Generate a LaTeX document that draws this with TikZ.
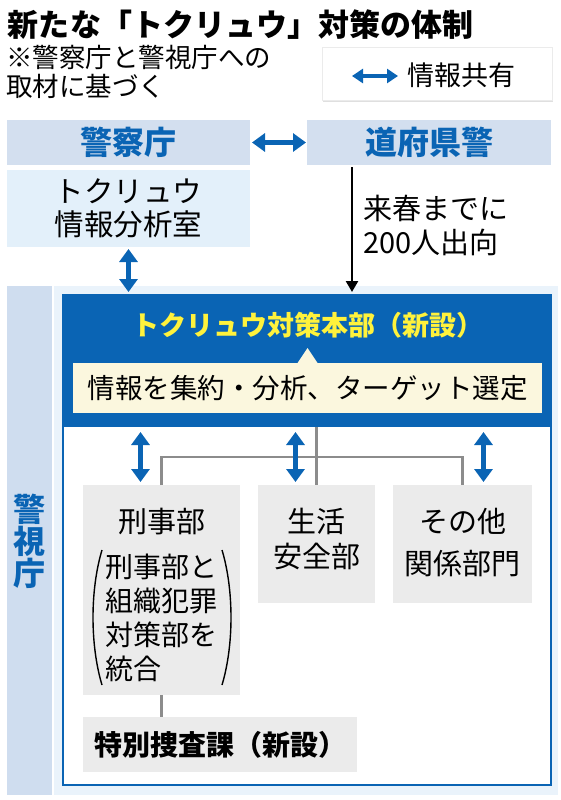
\documentclass[tikz,border=0pt]{standalone}
\usepackage{fontspec}
\setmainfont{Noto Sans CJK JP}
\usetikzlibrary{arrows.meta,positioning,shadows}

\definecolor{kblue}{HTML}{0A64B4}
\definecolor{npablue}{HTML}{D3DFEF}
\definecolor{roomblue}{HTML}{E3F0FA}
\definecolor{stripblue}{HTML}{CFDDEF}
\definecolor{panelblue}{HTML}{EAF3FB}
\definecolor{creamy}{HTML}{FBF7DE}
\definecolor{deptgray}{HTML}{EBEBEB}
\definecolor{linegray}{HTML}{8C8C8C}
\definecolor{hqyellow}{HTML}{FFF23C}

\begin{document}
\begin{tikzpicture}[
  x=1pt,y=-1pt,
  every node/.style={inner sep=0pt,outer sep=0pt},
  hqbox/.style={fill=npablue,text=kblue,font=\bfseries\fontsize{32}{32}\selectfont,anchor=north west,minimum height=45pt},
  roombox/.style={fill=roomblue,align=center,font=\fontsize{29.5}{33}\selectfont,anchor=north west},
  deptbox/.style={fill=deptgray,anchor=north west},
  depttext/.style={align=center,font=\fontsize{29}{35}\selectfont},
  infoarrow/.style={{Triangle[width=18pt,length=13pt]}-{Triangle[width=18pt,length=13pt]},line width=5pt,draw=kblue},
  keyarrow/.style={{Triangle[width=14pt,length=11pt]}-{Triangle[width=14pt,length=11pt]},line width=3.8pt,draw=kblue},
  sendarrow/.style={-{Triangle[width=12pt,length=11pt]},line width=2.5pt},
  orgline/.style={draw=linegray,line width=2.5pt}
]
\useasboundingbox (0,0) rectangle (561,800);

% heading and note
\node[anchor=west,font=\bfseries\fontsize{31}{31}\selectfont] (title) at (8,24.5) {新たな「トクリュウ」対策の体制};
\node[anchor=west,align=left,font=\fontsize{26.5}{29}\selectfont] (note) at (6,71.5) {※警察庁と警視庁への\\取材に基づく};

% legend
\node[anchor=north west,fill=white,draw=black!8,minimum width=230pt,minimum height=53pt,
  drop shadow={shadow xshift=1pt,shadow yshift=-2pt,opacity=0.25}] (legend) at (322,47) {};
\coordinate (keyl) at (352,76);
\coordinate (keyr) at (398,76);
\draw[keyarrow] (keyl) -- (keyr);
\node[anchor=west,font=\fontsize{27}{27}\selectfont] (keytext) at (407,75) {情報共有};

% national level
\node[hqbox,minimum width=243pt] (npa) at (7,120) {警察庁};
\node[hqbox,minimum width=244pt] (pref) at (307,120) {道府県警};
\node[roombox,minimum width=243pt,minimum height=77pt] (room) at (7,170) {トクリュウ\\情報分析室};
\draw[infoarrow,shorten <=2pt,shorten >=1pt] (npa) -- (pref);

% tokyo
\node[anchor=north west,fill=stripblue,minimum width=45pt,minimum height=509pt] (mpd) at (7,286) {};
\node[align=center,text=kblue,font=\bfseries\fontsize{32}{32}\selectfont] (mpdtext) at (29,541) {警\\視\\庁};
\node[anchor=north west,fill=panelblue,minimum width=504pt,minimum height=509pt] (panel) at (54,286) {};
\node[anchor=north west,fill=white,draw=kblue,line width=2pt,minimum width=488pt,minimum height=490pt] (frame) at (63,295) {};
\node[anchor=north west,fill=kblue,minimum width=488pt,minimum height=132pt] (hq) at (63,295) {};
\node[text=hqyellow,font=\bfseries\fontsize{27}{27}\selectfont] (hqtitle) at (308,325) {トクリュウ対策本部（新設）};
\node[anchor=north west,fill=creamy,minimum width=469pt,minimum height=50pt,font=\fontsize{27.5}{27.5}\selectfont] (task) at (73,363) {情報を集約・分析、ターゲット選定};
\fill[creamy] ([xshift=-10pt]task.north) -- ++(10,-15) -- ++(10,15) -- cycle;

\draw[infoarrow,shorten <=2pt] (room) -- ([yshift=-6pt]room |- panel.north);
\draw[sendarrow] ([xshift=-77pt,yshift=-2pt]pref.south) -- ([xshift=-77pt,yshift=-6pt]pref.south |- panel.north);
\node[anchor=west,align=left,font=\fontsize{29}{34}\selectfont] (dispatch) at (363,225) {来春までに\\200人出向};

% departments
\node[deptbox,minimum width=157pt,minimum height=210pt] (keiji) at (83,485) {};
\node[depttext] (keijiname) at (161.5,522) {刑事部};
\node[anchor=west,align=left,font=\fontsize{28}{34}\selectfont] (merge) at (105,618) {刑事部と\\組織犯罪\\対策部を\\統合};
\draw[line width=1.4pt] (102,550) .. controls (90,590) and (90,645) .. (102,685);
\draw[line width=1.4pt] (222,550) .. controls (234,590) and (234,645) .. (222,685);
\node[deptbox,minimum width=117pt,minimum height=118pt] (seian) at (258,485) {};
\node[depttext] (seiantext) at (316.5,539.5) {生活\\安全部};
\node[deptbox,minimum width=139pt,minimum height=118pt] (other) at (393,485) {};
\node[depttext,font=\fontsize{29}{42}\selectfont] (othertext) at (462.5,543) {その他\\関係部門};
\node[deptbox,minimum width=274pt,minimum height=55pt,font=\bfseries\fontsize{28}{28}\selectfont] (special) at (83,717) {特別捜査課（新設）};

\draw[orgline] (hq.south -| seian.north) -- (seian.north);
\draw[orgline] (keiji.north) -- ++(0,-28) -| (other.north);
\draw[orgline] (keiji.south) -- (keiji.south |- special.north);

\draw[infoarrow,shorten <=5pt,shorten >=3pt] ([xshift=-21pt]keiji.north |- hq.south) -- ([xshift=-21pt]keiji.north);
\draw[infoarrow,shorten <=5pt,shorten >=3pt] ([xshift=-21pt]seian.north |- hq.south) -- ([xshift=-21pt]seian.north);
\draw[infoarrow,shorten <=5pt,shorten >=3pt] ([xshift=21pt]other.north |- hq.south) -- ([xshift=21pt]other.north);
\end{tikzpicture}
\end{document}
